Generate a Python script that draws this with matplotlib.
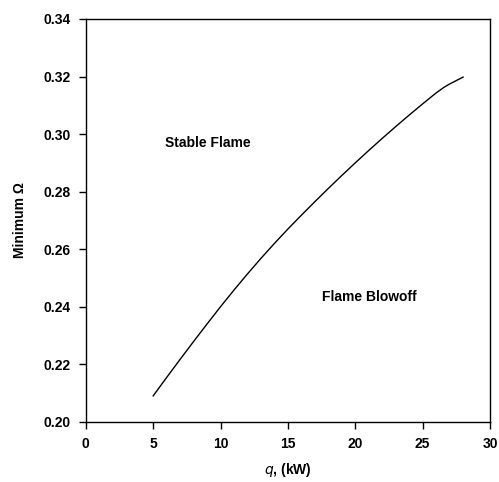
import matplotlib
matplotlib.use("Agg")
import matplotlib.pyplot as plt
import numpy as np

# data
q_kw = [5, 6, 7, 8, 9, 10, 11, 12, 13, 14, 15, 16, 17, 18, 19, 20,
        21, 22, 23, 24, 25, 26, 26.6, 27, 28]
min_omega = [0.209, 0.2154, 0.2217, 0.2279, 0.2340, 0.2400, 0.2458, 0.2514, 0.2568,
             0.2620, 0.2670, 0.2718, 0.2765, 0.2811, 0.2856, 0.2900, 0.2943, 0.2985,
             0.3026, 0.3066, 0.3105, 0.3143, 0.3163, 0.3174, 0.3198]
x_ticks = [0, 5, 10, 15, 20, 25, 30]
y_ticks = [0.20, 0.22, 0.24, 0.26, 0.28, 0.30, 0.32, 0.34]

plt.rcParams['font.family'] = ['Liberation Sans', 'DejaVu Sans']

fig = plt.figure(figsize=(4.99, 4.82), dpi=100)
ax = fig.add_axes([0.172, 0.125, 0.81, 0.8356])

ax.plot(q_kw, min_omega, color='black', linewidth=1.0)

ax.set_xlim(0, 30)
ax.set_ylim(0.20, 0.34)
ax.set_xticks(x_ticks)
ax.set_yticks(y_ticks)
ax.set_xticklabels([str(t) for t in x_ticks], fontsize=10, fontweight='bold')
ax.set_yticklabels(['%.2f' % t for t in y_ticks], fontsize=10, fontweight='bold')
ax.tick_params(direction='out', length=5, width=1, top=False, right=False, pad=6)
for s in ax.spines.values():
    s.set_linewidth(1.0)

ax.set_xlabel(r'$\mathit{q}$, (kW)', fontsize=10, fontweight='bold', labelpad=7)
ax.set_ylabel('Minimum \u03a9', fontsize=10, fontweight='bold', labelpad=12)

ax.text(5.9, 0.297, 'Stable Flame', fontsize=10, fontweight='bold', va='center')
ax.text(17.5, 0.2434, 'Flame Blowoff', fontsize=10, fontweight='bold', va='center')

plt.savefig('out.png', dpi=100)
